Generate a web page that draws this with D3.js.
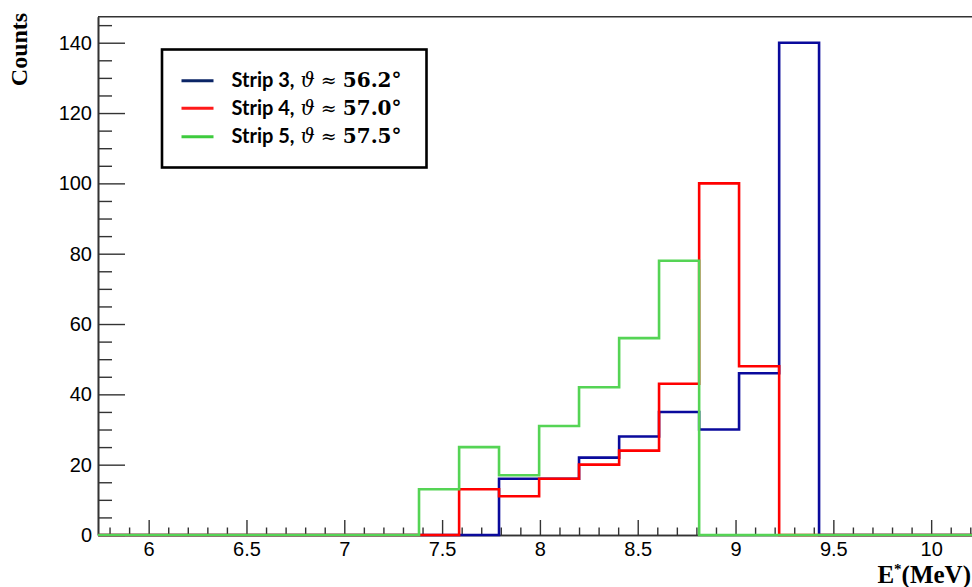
<!DOCTYPE html>
<html>
<head>
<meta charset="utf-8">
<script src="https://cdn.jsdelivr.net/npm/d3@7"></script>
<style>
  html, body { margin: 0; padding: 0; background: #fff; }
  svg { display: block; }
</style>
</head>
<body>
<svg id="chart" width="972" height="587"></svg>
<script>
// ---- data ----
const binEdges = [7.382, 7.587, 7.791, 7.996, 8.200, 8.405, 8.609, 8.814, 9.018, 9.223, 9.427];
const strip3 = [0, 0, 16, 16, 22, 28, 35, 30, 46, 140];
const strip4 = [0, 13, 11, 16, 20, 24, 43, 100, 48, 0];
const strip5 = [13, 25, 17, 31, 42, 56, 78, 0, 0, 0];
const seriesNames = ["Strip 3,", "Strip 4,", "Strip 5,"];
const seriesAngles = ["56.2°", "57.0°", "57.5°"];
const xMajorTicks = [6, 6.5, 7, 7.5, 8, 8.5, 9, 9.5, 10];
const yMajorTicks = [0, 20, 40, 60, 80, 100, 120, 140];
const xDomain = [5.741, 10.219];
const yDomain = [0, 147.4];

// ---- layout ----
const svg = d3.select("#chart");
const plotL = 98, plotR = 974, plotT = 16.7, plotB = 535;
const x = d3.scaleLinear().domain(xDomain).range([plotL, plotR]);
const y = d3.scaleLinear().domain(yDomain).range([plotB, plotT]);
const frameColor = "#333";

// frame top line
svg.append("line").attr("x1", plotL).attr("x2", plotR).attr("y1", plotT).attr("y2", plotT)
  .attr("stroke", frameColor).attr("stroke-width", 1.6);

// minor ticks
const xMinor = d3.range(58, 103).map(d => d / 10).filter(v => !xMajorTicks.some(m => Math.abs(m - v) < 1e-9));
const yMinor = d3.range(5, 146, 5).filter(v => v % 20 !== 0);

function styleAxis(g) {
  g.selectAll("path").attr("stroke", frameColor).attr("stroke-width", 1.6);
  g.selectAll("line").attr("stroke", frameColor).attr("stroke-width", 1.4);
  g.selectAll("text").attr("fill", "#000").style("font-family", "'Liberation Sans', Arial, sans-serif").style("font-size", "20px");
}

const gxMinor = svg.append("g").attr("transform", `translate(0,${plotB})`)
  .call(d3.axisBottom(x).tickValues(xMinor).tickSize(-7.5).tickSizeOuter(0).tickFormat(""));
styleAxis(gxMinor);
const gx = svg.append("g").attr("transform", `translate(0,${plotB})`)
  .call(d3.axisBottom(x).tickValues(xMajorTicks).tickSize(-15).tickSizeOuter(0).tickPadding(7).tickFormat(d3.format("")));
styleAxis(gx);

const gyMinor = svg.append("g").attr("transform", `translate(${plotL},0)`)
  .call(d3.axisLeft(y).tickValues(yMinor).tickSize(-14).tickSizeOuter(0).tickFormat(""));
styleAxis(gyMinor);
const gy = svg.append("g").attr("transform", `translate(${plotL},0)`)
  .call(d3.axisLeft(y).tickValues(yMajorTicks).tickSize(-27).tickSizeOuter(0).tickPadding(6));
styleAxis(gy);

// ---- histograms ----
const histColors = ["#0a0a9c", "#ff0000", "#55d455"];
const legendColors = ["#0b2566", "#ff1a1a", "#3ecb3e"];
const seriesData = [strip3, strip4, strip5];

const line = d3.line().x(d => x(d[0])).y(d => y(d[1])).curve(d3.curveStepAfter);
seriesData.forEach((vals, i) => {
  const pts = [[xDomain[0], 0]];
  vals.forEach((v, j) => pts.push([binEdges[j], v]));
  pts.push([binEdges[binEdges.length - 1], 0]);
  pts.push([xDomain[1], 0]);
  svg.append("path").datum(pts).attr("d", line)
    .attr("fill", "none").attr("stroke", histColors[i]).attr("stroke-width", 2.6)
    .attr("stroke-linejoin", "miter");
});

// ---- legend ----
const lg = svg.append("g");
lg.append("rect").attr("x", 162).attr("y", 49.5).attr("width", 264.5).attr("height", 118)
  .attr("fill", "#fff").attr("stroke", "#000").attr("stroke-width", 2.6);
const rowY = [80.7, 108.3, 136.7];
seriesNames.forEach((name, i) => {
  lg.append("line").attr("x1", 181.5).attr("x2", 213.5).attr("y1", rowY[i]).attr("y2", rowY[i])
    .attr("stroke", legendColors[i]).attr("stroke-width", 3);
  const t = lg.append("text").attr("x", 231.5).attr("y", rowY[i] + 6.5)
    .attr("fill", "#000");
  t.append("tspan").text(name)
    .style("font-family", "Lato, 'Open Sans', sans-serif").style("font-weight", "bold").style("font-size", "20px");
  t.append("tspan").attr("dx", 6).text("ϑ")
    .style("font-family", "'DejaVu Serif', serif").style("font-style", "italic").style("font-size", "20px");
  t.append("tspan").text(" ≈ ")
    .style("font-family", "'DejaVu Serif', serif").style("font-size", "19px");
  t.append("tspan").text(seriesAngles[i])
    .style("font-family", "'DejaVu Serif', serif").style("font-weight", "bold").style("font-size", "20px");
});

// ---- axis titles ----
svg.append("text").attr("transform", "translate(27,49.5) rotate(-90)")
  .attr("text-anchor", "middle").attr("fill", "#000")
  .style("font-family", "'Liberation Serif', 'Times New Roman', serif").style("font-weight", "bold").style("font-size", "24px")
  .text("Counts");

const xt = svg.append("text").attr("x", 971).attr("y", 583).attr("text-anchor", "end").attr("fill", "#000")
  .style("font-family", "'Liberation Serif', 'Times New Roman', serif").style("font-weight", "bold").style("font-size", "25px");
xt.append("tspan").text("E");
xt.append("tspan").attr("dy", -9).style("font-size", "15px").text("*");
xt.append("tspan").attr("dy", 9).text("(MeV)");
</script>
</body>
</html>
